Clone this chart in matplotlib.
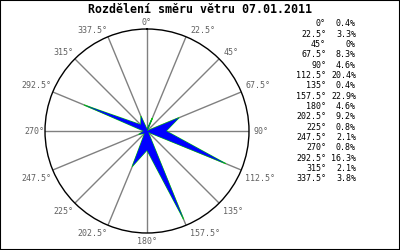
import numpy as np
import matplotlib
matplotlib.use("Agg")
import matplotlib.pyplot as plt
from matplotlib.patches import Rectangle

directions = [0, 22.5, 45, 67.5, 90, 112.5, 135, 157.5, 180, 202.5, 225, 247.5, 270, 292.5, 315, 337.5]
percent = [0.4, 3.3, 0, 8.3, 4.6, 20.4, 0.4, 22.9, 4.6, 9.2, 0.8, 2.1, 0.8, 16.3, 2.1, 3.8]
title = "Rozdělení směru větru 07.01.2011"
rmax = 24.5

mono = ["DejaVu Sans Mono"]

fig = plt.figure(figsize=(4, 2.5), dpi=100)
fig.patch.set_facecolor("white")
ax = fig.add_axes([0.1125, 0.068, 0.51, 0.816], projection="polar")
ax.set_theta_zero_location("N")
ax.set_theta_direction(-1)
ax.set_ylim(0, rmax)
ax.set_yticks([])
ax.set_xticks(np.deg2rad(directions))
ax.set_xticklabels([])
ax.xaxis.grid(True, color="#808080", lw=1)
ax.yaxis.grid(False)
ax.spines["polar"].set_color("black")
ax.spines["polar"].set_linewidth(1)

for d in directions:
    s, c = np.sin(np.deg2rad(d)), np.cos(np.deg2rad(d))
    ha = "left" if s > 0.1 else ("right" if s < -0.1 else "center")
    va = "bottom" if c > 0.1 else ("top" if c < -0.1 else "center")
    ox = 4 if s > 0.1 else (-1 if s < -0.1 else 0)
    oy = 2 if c > 0.1 else (-4 if c < -0.1 else 0)
    ax.annotate(f"{d:g}°", xy=(np.deg2rad(d), rmax), xytext=(ox, oy),
                textcoords="offset pixels", ha=ha, va=va, fontsize=6,
                color="#606060", family=mono, annotation_clip=False)

th = np.deg2rad(directions + [directions[0]])
r = percent + [percent[0]]
ax.plot(th, r, color="#00cc00", lw=0.8, zorder=3)
ax.fill(th, r, color="blue", lw=0, zorder=4)

fig.text(0.5, 1 - 9.5 / 250, title, ha="center", va="center", fontsize=8.4,
         fontweight="bold", family=mono)

y0 = 1 - 24 / 250
dy = 10.33 / 250
for i, (d, p) in enumerate(zip(directions, percent)):
    y = y0 - i * dy
    fig.text(326 / 400, y, f"{d:g}°", ha="right", va="center", fontsize=6, family=mono)
    fig.text(356 / 400, y, f"{p:g}%", ha="right", va="center", fontsize=6, family=mono)

fig.add_artist(Rectangle((0, 0), 1, 1, transform=fig.transFigure, fill=False, ec="black", lw=1.5))
fig.savefig("out.png", dpi=100)
